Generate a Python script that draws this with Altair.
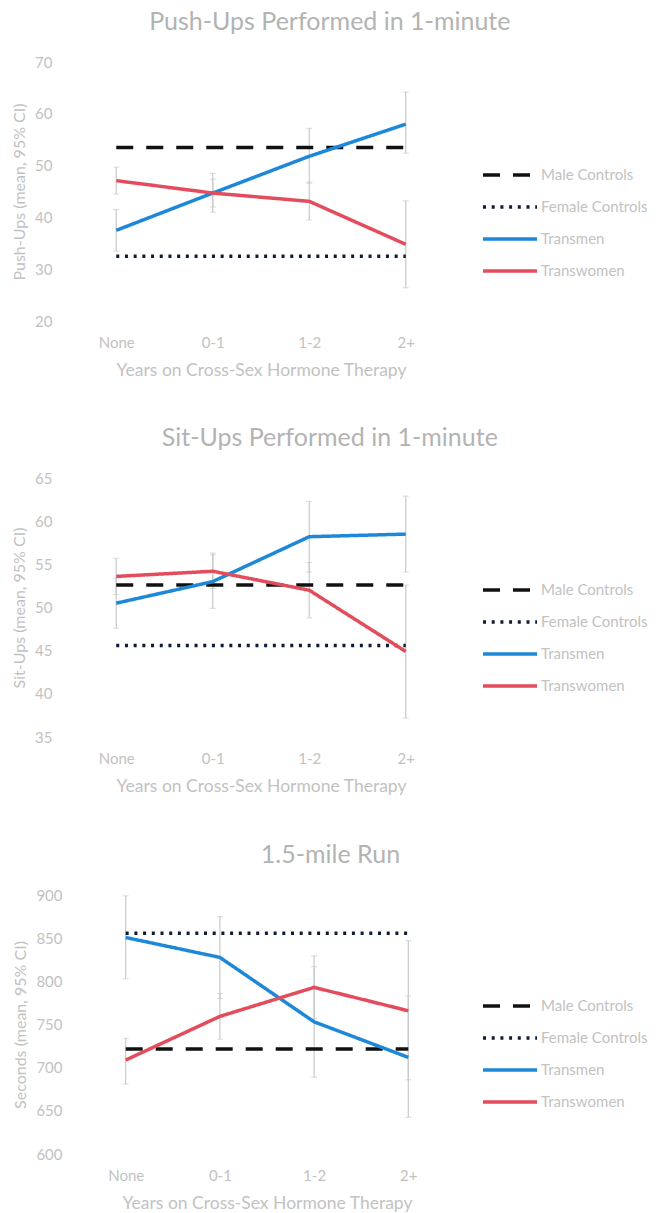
import altair as alt
import pandas as pd

categories = ["None", "0-1", "1-2", "2+"]
series_names = ["Male Controls", "Female Controls", "Transmen", "Transwomen"]
series_colors = ["#111111", "#0f1a33", "#1e88d8", "#e34c5c"]
series_dash = [[17, 13], [3, 5.7], [1, 0], [1, 0]]

# Push-ups
pu_male = [53.5, 53.5, 53.5, 53.5]
pu_female = [32.5, 32.5, 32.5, 32.5]
pu_transmen = [37.5, 44.7, 51.8, 58.0]
pu_transwomen = [47.1, 44.7, 43.1, 34.8]
pu_tm_lo = [33.5, 41.0, 46.6, 52.4]
pu_tm_hi = [41.5, 48.5, 57.2, 64.2]
pu_tw_lo = [44.5, 42.0, 39.5, 26.4]
pu_tw_hi = [49.7, 47.4, 46.8, 43.2]

# Sit-ups
su_male = [52.6, 52.6, 52.6, 52.6]
su_female = [45.6, 45.6, 45.6, 45.6]
su_transmen = [50.5, 53.0, 58.2, 58.5]
su_transwomen = [53.6, 54.2, 52.0, 44.9]
su_tm_lo = [47.6, 49.9, 54.1, 54.1]
su_tm_hi = [53.4, 56.1, 62.3, 62.9]
su_tw_lo = [51.5, 52.2, 48.8, 37.2]
su_tw_hi = [55.7, 56.3, 55.2, 52.6]

# 1.5-mile run (seconds)
run_male = [721.5, 721.5, 721.5, 721.5]
run_female = [855.8, 855.8, 855.8, 855.8]
run_transmen = [850.8, 827.7, 753.1, 711.9]
run_transwomen = [708.8, 759.4, 793.0, 765.9]
run_tm_lo = [803.0, 780.0, 689.0, 642.5]
run_tm_hi = [899.0, 875.0, 817.0, 783.0]
run_tw_lo = [681.0, 733.0, 757.0, 686.0]
run_tw_hi = [734.0, 786.0, 829.5, 847.0]

FONT = "Lato"
TXT = "#c2c2c2"


def panel(title, ytitle, ydom, yvals, male, female, tm, tw, tm_lo, tm_hi, tw_lo, tw_hi,
          xrange, legend_y, ylabel_pad):
    rows = []
    for name, vals in zip(series_names, [male, female, tm, tw]):
        for c, v in zip(categories, vals):
            rows.append({"cat": c, "series": name, "value": v})
    lines = pd.DataFrame(rows)
    err_rows = []
    for lo, hi in [(tm_lo, tm_hi), (tw_lo, tw_hi)]:
        for c, l, h in zip(categories, lo, hi):
            err_rows.append({"cat": c, "lo": l, "hi": h})
    err = pd.DataFrame(err_rows)

    xscale = alt.Scale(type="point", padding=0.5, range=xrange)
    xenc = alt.X("cat:O", sort=categories, scale=xscale,
                 axis=alt.Axis(title="Years on Cross-Sex Hormone Therapy", labelAngle=0,
                               domain=False, ticks=False, labelPadding=14,
                               labelFontSize=15, labelColor=TXT, labelFont=FONT,
                               titleFontSize=17.5, titleColor=TXT, titleFont=FONT,
                               titleFontWeight="normal", titlePadding=11))
    yscale = alt.Scale(domain=ydom, nice=False, zero=False)
    yaxis = alt.Axis(title=ytitle, values=yvals, domain=False, ticks=False, grid=False,
                     labelPadding=ylabel_pad, labelFontSize=15, labelColor=TXT,
                     labelFont=FONT, titleFontSize=16, titleColor=TXT, titleFont=FONT,
                     titleFontWeight="normal", titlePadding=7)

    rule = alt.Chart(err).mark_rule(color="#c9c9c9", strokeWidth=1.2).encode(
        x=xenc, y=alt.Y("lo:Q", scale=yscale, axis=yaxis), y2="hi:Q")
    cap_lo = alt.Chart(err).mark_tick(color="#c9c9c9", thickness=1, size=6,
                                      orient="horizontal").encode(
        x=alt.X("cat:O", sort=categories), y=alt.Y("lo:Q"))
    cap_hi = alt.Chart(err).mark_tick(color="#c9c9c9", thickness=1, size=6,
                                      orient="horizontal").encode(
        x=alt.X("cat:O", sort=categories), y=alt.Y("hi:Q"))

    legend = alt.Legend(title=None, orient="none", legendX=413, legendY=legend_y,
                        symbolType="stroke", symbolSize=2916, symbolStrokeWidth=3.5,
                        labelFontSize=15, labelColor=TXT, labelFont=FONT,
                        clipHeight=32, rowPadding=0, padding=0, labelOffset=2)
    line = alt.Chart(lines).mark_line(strokeWidth=3.5).encode(
        x=alt.X("cat:O", sort=categories),
        y=alt.Y("value:Q"),
        color=alt.Color("series:N", sort=series_names,
                        scale=alt.Scale(domain=series_names, range=series_colors),
                        legend=legend),
        strokeDash=alt.StrokeDash("series:N", sort=series_names,
                                  scale=alt.Scale(domain=series_names, range=series_dash),
                                  legend=legend),
        detail="series:N",
        order=alt.Order("series:N"),
    )
    return alt.layer(rule, cap_lo, cap_hi, line).properties(
        width=386, height=259,
        title=alt.TitleParams(title, fontSize=25, color="#b3b3b3", font=FONT,
                              fontWeight="normal", anchor="middle", frame="bounds",
                              offset=20),
    )


p1 = panel("Push-Ups Performed in 1-minute", "Push-Ups (mean, 95% CI)", [20, 70],
           [20, 30, 40, 50, 60, 70], pu_male, pu_female, pu_transmen, pu_transwomen,
           pu_tm_lo, pu_tm_hi, pu_tw_lo, pu_tw_hi, [0, 386], 97, 16)
p2 = panel("Sit-Ups Performed in 1-minute", "Sit-Ups (mean, 95% CI)", [35, 65],
           [35, 40, 45, 50, 55, 60, 65], su_male, su_female, su_transmen, su_transwomen,
           su_tm_lo, su_tm_hi, su_tw_lo, su_tw_hi, [0, 386], 96, 16)
p3 = panel("1.5-mile Run", "Seconds (mean, 95% CI)", [600, 900],
           [600, 650, 700, 750, 800, 850, 900], run_male, run_female, run_transmen,
           run_transwomen, run_tm_lo, run_tm_hi, run_tw_lo, run_tw_hi, [10.6, 387.4], 95, 6)


def res(c):
    return c.resolve_scale(
        x="independent", y="independent", color="independent", strokeDash="independent"
    ).resolve_legend(color="independent", strokeDash="independent")


top = res(alt.vconcat(p1, p2, spacing=47))
chart = res(alt.vconcat(top, p3, spacing=48)).configure(
    padding={"left": 3, "top": 2, "right": 0, "bottom": 0}
).configure_view(stroke=None)

chart.save("out.html", embed_options={"renderer": "svg", "actions": False})
